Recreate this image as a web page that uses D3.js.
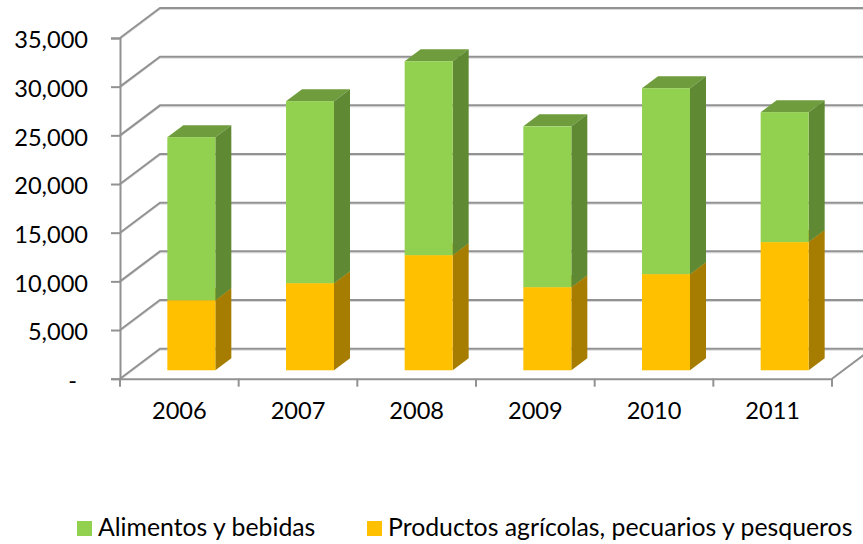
<!DOCTYPE html>
<html>
<head>
<meta charset="utf-8">
<script src="https://cdn.jsdelivr.net/npm/d3@7"></script>
<style>
  html, body { margin: 0; padding: 0; background: #fff; }
  svg { display: block; }
  text { font-family: Lato, "Open Sans", sans-serif; fill: #000; }
</style>
</head>
<body>
<div id="chart"></div>
<script>
var years = ["2006", "2007", "2008", "2009", "2010", "2011"];
var productos = [7200, 8950, 11830, 8540, 9880, 13170];
var alimentos = [16750, 18700, 19920, 16520, 19100, 13350];
var yTicks = [0, 5000, 10000, 15000, 20000, 25000, 30000, 35000];
var seriesNames = ["Alimentos y bebidas", "Productos agrícolas, pecuarios y pesqueros"];

var width = 863, height = 544;
var left = 120, right = 832, bottom = 378.7, top_ = 38;
// 3d offsets: wall depth and bar depth
var wallX = 40, wallY = 30, barX = 16, barY = 12;
var gridColor = "#929292";

var svg = d3.select("#chart").append("svg")
  .attr("width", width)
  .attr("height", height);

var x = d3.scaleBand().domain(years).range([left, right]);
var y = d3.scaleLinear().domain([0, 35000]).range([bottom, top_]);

var rows = years.map(function(d, i) {
  return {year: d, productos: productos[i], alimentos: alimentos[i]};
});
var stacked = d3.stack().keys(["productos", "alimentos"])(rows);

var colors = {
  productos: {front: "#ffc000", side: "#a67d00", top: "#bf9000"},
  alimentos: {front: "#92d050", side: "#5f8a33", top: "#6f9c3d"}
};

// back wall gridlines, with the faint shadow under them
var grid = svg.append("g");
[{dy: 1.5, c: "#d9d9d9", w: 1}, {dy: 0, c: gridColor, w: 2}].forEach(function(s) {
  grid.selectAll(null)
    .data(yTicks)
    .enter()
    .append("path")
      .attr("fill", "none")
      .attr("stroke", s.c)
      .attr("stroke-width", s.w)
      .attr("d", function(d) {
        var p = y(d) + s.dy;
        return "M" + left + "," + p + "L" + (left + wallX) + "," + (p - wallY) + "L" + width + "," + (p - wallY);
      });
});

// floor edge on the right
svg.append("path")
  .attr("fill", "none")
  .attr("stroke", gridColor)
  .attr("stroke-width", 2)
  .attr("d", "M" + right + "," + y(0) + "L" + (right + wallX) + "," + (y(0) - wallY));

var barW = 48;
var bars = svg.append("g");

stacked.forEach(function(layer) {
  var c = colors[layer.key];
  var g = bars.append("g");

  function bx(d) { return x(d.data.year) + (x.bandwidth() - barW) / 2 + (wallX - barX) / 2; }
  function by(v) { return y(v) - (wallY - barY) / 2 + 0.6; }

  g.selectAll(".top")
    .data(layer)
    .enter()
    .append("polygon")
      .attr("class", "top")
      .attr("fill", c.top)
      .attr("points", function(d) {
        var a = bx(d), t = by(d[1]);
        return [[a, t], [a + barX, t - barY], [a + barW + barX, t - barY], [a + barW, t]].join(" ");
      });

  g.selectAll(".side")
    .data(layer)
    .enter()
    .append("polygon")
      .attr("class", "side")
      .attr("fill", c.side)
      .attr("points", function(d) {
        var a = bx(d) + barW, t = by(d[1]), b = by(d[0]);
        return [[a, t], [a + barX, t - barY], [a + barX, b - barY], [a, b]].join(" ");
      });

  g.selectAll(".front")
    .data(layer)
    .enter()
    .append("rect")
      .attr("class", "front")
      .attr("fill", c.front)
      .attr("x", bx)
      .attr("y", function(d) { return by(d[1]); })
      .attr("width", barW)
      .attr("height", function(d) { return by(d[0]) - by(d[1]); });
});

// axes
var yAxis = svg.append("g")
  .attr("transform", "translate(" + left + ",0)")
  .call(d3.axisLeft(y)
    .tickValues(yTicks)
    .tickSize(9)
    .tickPadding(23)
    .tickFormat(function(d) { return d === 0 ? "-" : d3.format(",")(d); }));

var xAxis = svg.append("g")
  .attr("transform", "translate(0," + y(0) + ")")
  .call(d3.axisBottom(x).tickSize(0).tickPadding(24));

// band edge ticks, the axis only gives the centred ones
xAxis.selectAll(".edge")
  .data(d3.range(years.length + 1))
  .enter()
  .append("line")
    .attr("class", "edge")
    .attr("x1", function(i) { return left + i * x.step(); })
    .attr("x2", function(i) { return left + i * x.step(); })
    .attr("y1", 0)
    .attr("y2", 8);

[yAxis, xAxis].forEach(function(a) {
  a.selectAll("path.domain, line").attr("stroke", gridColor).attr("stroke-width", 2);
  a.selectAll("text").style("font-size", "23.6px").attr("font-family", null);
});
yAxis.selectAll(".tick text").attr("dy", "0.42em");
yAxis.select(".tick text").attr("dx", "-11");

// legend
var legend = svg.append("g");
var legendX = [77, 367];
var legendColors = [colors.alimentos.front, colors.productos.front];
seriesNames.forEach(function(name, i) {
  legend.append("rect")
    .attr("x", legendX[i])
    .attr("y", 521)
    .attr("width", 15)
    .attr("height", 15)
    .attr("fill", legendColors[i]);
  legend.append("text")
    .attr("x", legendX[i] + 21)
    .attr("y", 536)
    .style("font-size", "24.8px")
    .text(name);
});
</script>
</body>
</html>
